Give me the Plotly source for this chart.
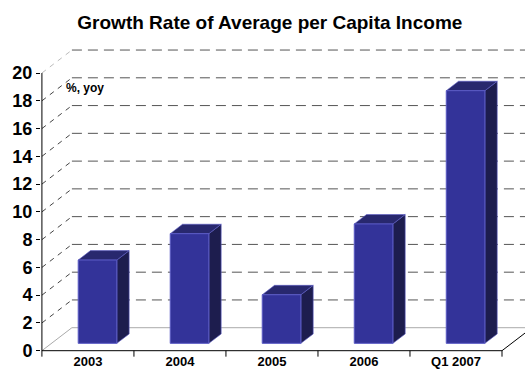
import plotly.graph_objects as go

# Data
categories = ["2003", "2004", "2005", "2006", "Q1 2007"]
growth = [6.0, 7.9, 3.5, 8.6, 18.2]
y_ticks = [0, 2, 4, 6, 8, 10, 12, 14, 16, 18, 20]

# Oblique "3D" projection: how far the back wall sits from the front (data units)
WALL_DX = 0.326
WALL_DY = 1.656
DEPTH_FRONT, DEPTH_BACK = 0.32, 0.73   # bar depth span as fraction of the floor depth
BAR_W = 0.42

FONT = "Liberation Sans, Arial, sans-serif"
FRONT_C = "#333399"
TOP_C = "#28286e"
SIDE_C = "#1d1d4e"
EDGE_C = "#5a5ac4"

X_LO, X_HI = -0.51, 4.75
Y_LO, Y_HI = -1.678, 25.26
n = len(categories)
left = -0.5
right = n - 0.5

fig = go.Figure()


def seg(xs, ys, color, width=1, dash=None):
    fig.add_trace(go.Scatter(x=xs, y=ys, mode="lines",
                             line=dict(color=color, width=width, dash=dash),
                             hoverinfo="skip", showlegend=False))


def face(xs, ys, color, edge_w=0.6):
    fig.add_trace(go.Scatter(x=xs + xs[:1], y=ys + ys[:1], mode="lines",
                             fill="toself", fillcolor=color,
                             line=dict(color=EDGE_C, width=edge_w),
                             hoverinfo="skip", showlegend=False))


# Back wall and side wall gridlines
for v in y_ticks:
    if v == 0:
        seg([left, left + WALL_DX, X_HI], [0, WALL_DY, WALL_DY], "#aaaaaa", 1)
    else:
        col = "#bbbbbb" if v == y_ticks[-1] else "#444444"
        seg([left, left + WALL_DX], [v, v + WALL_DY], col, 1, "5px,5px")
        seg([left + WALL_DX, X_HI], [v + WALL_DY, v + WALL_DY], "#555555", 1, "10px,6px")

# Front floor edge, right floor edge, value axis line, category separators
seg([left, right], [0, 0], "black", 1)
seg([right, right + WALL_DX], [0, WALL_DY], "black", 1)
seg([left, left], [-0.43, y_ticks[-1]], "black", 1)
for i in range(1, n + 1):
    seg([left + i, left + i], [0, -0.43], "black", 1)

# Columns: side, top and front faces
fx = DEPTH_FRONT * WALL_DX
fy = DEPTH_FRONT * WALL_DY
ddx = (DEPTH_BACK - DEPTH_FRONT) * WALL_DX
ddy = (DEPTH_BACK - DEPTH_FRONT) * WALL_DY

for i, v in enumerate(growth):
    xl = i + fx - BAR_W / 2
    xr = i + fx + BAR_W / 2
    face([xr, xr + ddx, xr + ddx, xr], [fy, fy + ddy, fy + ddy + v, fy + v], SIDE_C)
    face([xl, xr, xr + ddx, xl + ddx], [fy + v, fy + v, fy + v + ddy, fy + v + ddy], TOP_C)
    face([xl, xr, xr, xl], [fy, fy, fy + v, fy + v], FRONT_C, 1)

# Category labels
fig.add_trace(go.Scatter(
    x=list(range(n)), y=[-0.85] * n, mode="text",
    text=[f"<b>{c}</b>" for c in categories],
    textfont=dict(family=FONT, size=13, color="black"),
    hoverinfo="skip", showlegend=False, cliponaxis=False))

fig.update_layout(
    width=525, height=374,
    margin=dict(l=41, r=0, t=0, b=0),
    paper_bgcolor="white", plot_bgcolor="white",
    title=dict(text="<b>Growth Rate of Average per Capita Income</b>",
               font=dict(family=FONT, size=19, color="black"),
               x=0.514, xref="container", xanchor="center",
               y=1 - 22 / 374, yref="container", yanchor="middle"),
    xaxis=dict(range=[X_LO, X_HI], visible=False, fixedrange=True),
    yaxis=dict(range=[Y_LO, Y_HI], tickvals=y_ticks,
               ticktext=[f"<b>{t}</b>" for t in y_ticks],
               tickfont=dict(family=FONT, size=18, color="black"),
               ticks="outside", ticklen=4, tickcolor="black",
               showgrid=False, zeroline=False, showline=False,
               automargin=False, fixedrange=True),
    annotations=[dict(text="<b>%, yoy</b>", x=-0.261, y=18.92, xref="x", yref="y",
                      xanchor="left", yanchor="middle", showarrow=False,
                      font=dict(family=FONT, size=12, color="black"))],
)

fig.write_html("out.html")
